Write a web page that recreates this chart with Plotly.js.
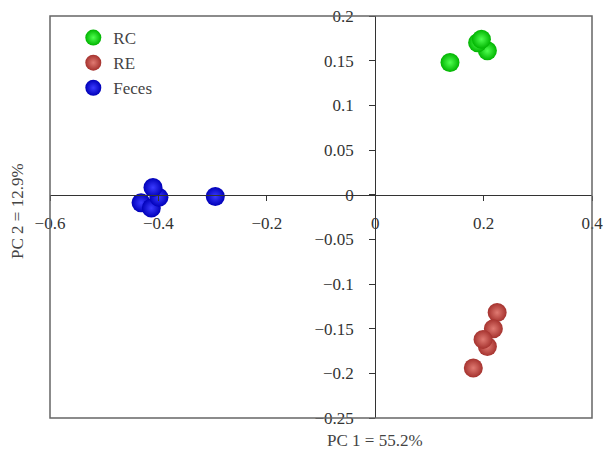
<!DOCTYPE html>
<html>
<head>
<meta charset="utf-8">
<script src="https://cdn.plot.ly/plotly-3.0.1.min.js"></script>
<style>html,body{margin:0;padding:0;background:#fff;}#chart{width:604px;height:449px;}</style>
</head>
<body>
<div id="chart"></div>
<script>
// Group names
const groups = ["RC", "RE", "Feces"];
// PC1 / PC2 scores
const rcPC1 = [0.138, 0.207, 0.189, 0.196];
const rcPC2 = [0.148, 0.161, 0.170, 0.174];
const rePC1 = [0.225, 0.218, 0.207, 0.199, 0.181];
const rePC2 = [-0.132, -0.150, -0.170, -0.162, -0.194];
const fecesPC1 = [-0.295, -0.432, -0.413, -0.399, -0.410];
const fecesPC2 = [-0.002, -0.009, -0.015, -0.003, 0.008];
const xTitle = "PC 1 = 55.2%";
const yTitle = "PC 2 = 12.9%";

const serif = "Liberation Serif, DejaVu Serif, serif";

function trace(name, xs, ys, edge, center) {
  return {
    type: "scatter", mode: "markers", name: name, x: xs, y: ys,
    marker: {size: 19, color: edge, gradient: {type: "radial", color: center}, line: {width: 0}}
  };
}

const data = [
  trace(groups[0], rcPC1, rcPC2, "#00b400", "#50ff50"),
  trace(groups[1], rePC1, rePC2, "#a5322e", "#e07a72"),
  trace(groups[2], fecesPC1, fecesPC2, "#0000b8", "#3a3aff")
];

const layout = {
  width: 604, height: 449,
  margin: {l: 50, r: 12, t: 16, b: 31},
  paper_bgcolor: "#fff", plot_bgcolor: "#fff",
  font: {family: serif, size: 17, color: "#333"},
  showlegend: true,
  legend: {x: 0.043, y: 0.99, xanchor: "left", yanchor: "top", bgcolor: "rgba(0,0,0,0)",
           font: {family: serif, size: 17, color: "#444"}, itemwidth: 30, tracegroupgap: 0},
  xaxis: {
    range: [-0.6, 0.4], dtick: 0.2, tick0: 0, anchor: "free", position: 0.25 / 0.45,
    showgrid: false, zeroline: false, showline: true, linecolor: "#333", linewidth: 1.2,
    ticks: "outside", ticklen: 5, tickcolor: "#333", side: "bottom", ticklabelstandoff: 8,
    tickfont: {family: serif, size: 17, color: "#333"}
  },
  yaxis: {
    range: [-0.25, 0.2], dtick: 0.05, tick0: 0, anchor: "free", position: 0.6,
    showgrid: false, zeroline: false, showline: true, linecolor: "#333", linewidth: 1.2,
    ticks: "outside", ticklen: 6, tickcolor: "#333", side: "left", ticklabelstandoff: 12,
    tickfont: {family: serif, size: 17, color: "#333"}
  },
  shapes: [{type: "rect", xref: "paper", yref: "paper", x0: 0, x1: 1, y0: 0, y1: 1,
            line: {color: "#666", width: 1.5}}],
  annotations: [
    {text: xTitle, xref: "x", yref: "paper", x: 0, y: -0.055, xanchor: "center", yanchor: "middle",
     showarrow: false, font: {family: serif, size: 17, color: "#444"}},
    {text: yTitle, xref: "paper", yref: "paper", x: -0.059, y: 0.515, xanchor: "center", yanchor: "middle",
     textangle: -90, showarrow: false, font: {family: serif, size: 17, color: "#444"}}
  ]
};

Plotly.newPlot("chart", data, layout, {displayModeBar: false, staticPlot: true});
</script>
</body>
</html>
